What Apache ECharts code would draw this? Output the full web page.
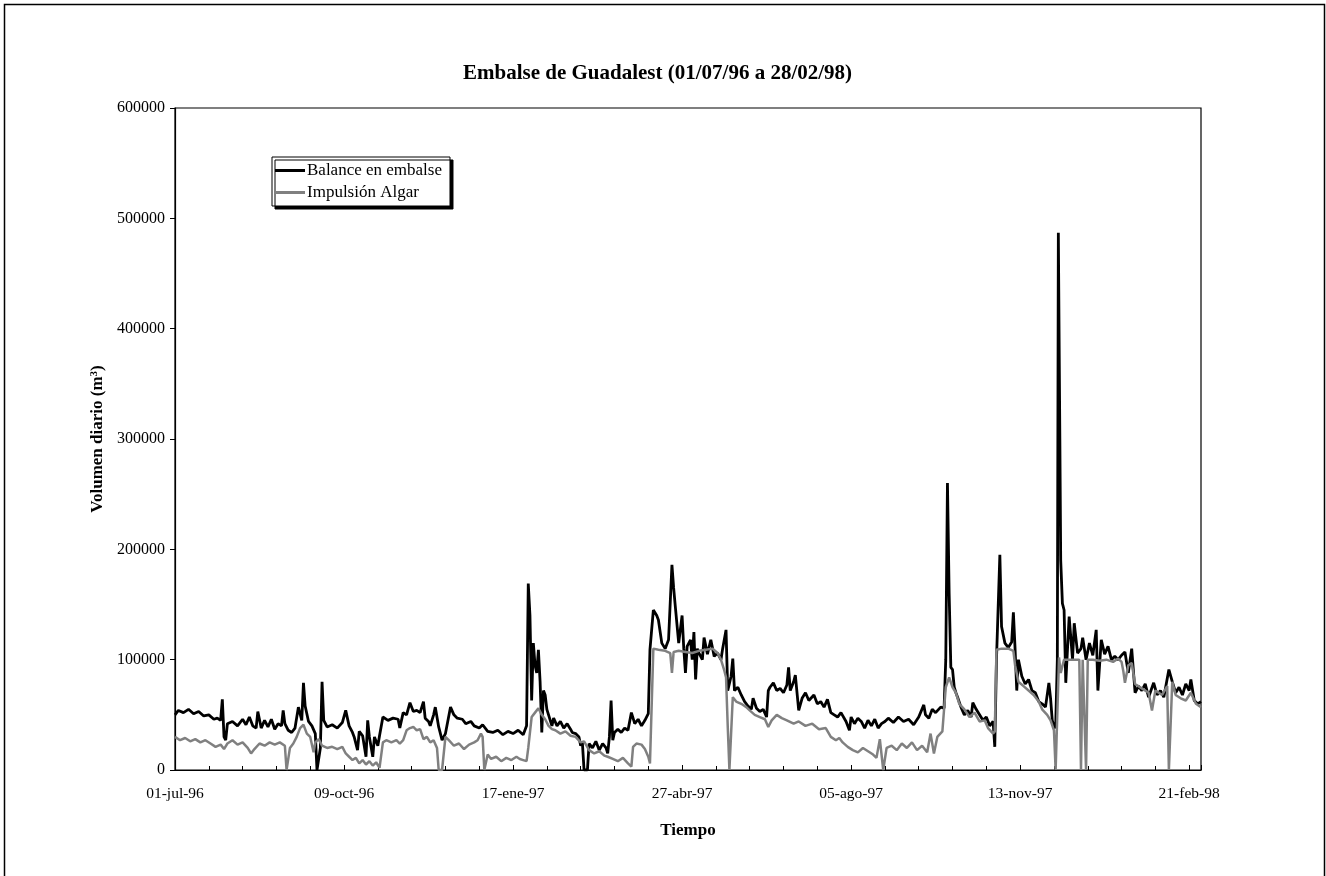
<!DOCTYPE html>
<html><head><meta charset="utf-8">
<script src="https://cdn.jsdelivr.net/npm/echarts@6/dist/echarts.min.js"></script>
<style>html,body{margin:0;padding:0;background:#fff}#c{width:1326px;height:876px}</style>
</head><body><div id="c"></div>
<script>
// Day index counted from 01-jul-96 (day 0) to 28-feb-98 (day 607)
const xTickLabels = ['01-jul-96','09-oct-96','17-ene-97','27-abr-97','05-ago-97','13-nov-97','21-feb-98'];
const yTickLabels = ['0','100000','200000','300000','400000','500000','600000'];
const seriesNames = ['Balance en embalse','Impulsión Algar'];

// Balance en embalse: [day, m3]
const balance = [[0,50000],[2,54000],[5,52000],[8,55000],[11,51000],[14,53000],[17,49000],[20,50000],[23,46000],[25,47000],[27,45000],[28,64000],[29,30000],[30,27000],[31,42000],[34,44000],[37,40000],[40,46000],[42,41000],[44,48000],[46,40000],[48,38000],[49,53000],[51,38000],[53,45000],[55,39000],[57,46000],[59,37000],[61,42000],[63,40000],[64,54000],[65,42000],[67,36000],[69,34000],[71,38000],[73,57000],[75,45000],[76,79000],[77,58000],[79,44000],[81,40000],[83,33000],[84,0],[85,0],[86,20000],[87,80000],[88,45000],[90,39000],[93,41000],[96,38000],[99,43000],[101,54000],[103,40000],[105,34000],[106,30000],[108,18000],[109,35000],[111,31000],[113,12000],[114,45000],[115,30000],[117,12000],[118,30000],[120,22000],[121,31000],[123,48000],[126,45000],[129,47000],[132,46000],[133,38000],[135,52000],[137,50000],[139,61000],[141,53000],[143,54000],[145,52000],[147,62000],[148,47000],[150,44000],[151,40000],[153,50000],[154,57000],[156,39000],[158,27000],[160,33000],[163,57000],[165,50000],[167,47000],[170,46000],[172,42000],[175,44000],[177,40000],[180,38000],[182,41000],[185,35000],[188,34000],[191,36000],[194,32000],[197,35000],[200,33000],[203,36000],[206,32000],[207,36000],[208,40000],[209,169000],[210,140000],[211,63000],[212,115000],[213,95000],[214,88000],[215,109000],[216,80000],[217,34000],[218,72000],[219,68000],[220,55000],[221,50000],[223,40000],[224,47000],[226,40000],[228,44000],[230,38000],[232,42000],[234,37000],[235,34000],[237,33000],[239,30000],[240,22000],[241,25000],[242,0],[244,0],[245,24000],[247,20000],[249,26000],[251,18000],[253,24000],[255,20000],[256,15000],[257,30000],[258,63000],[259,27000],[260,34000],[262,37000],[264,34000],[266,38000],[268,36000],[270,52000],[272,42000],[274,46000],[276,40000],[278,45000],[280,51000],[281,109000],[283,145000],[285,140000],[286,136000],[288,115000],[290,110000],[292,118000],[294,186000],[295,165000],[296,148000],[298,115000],[300,140000],[301,110000],[302,88000],[303,112000],[305,118000],[306,100000],[307,125000],[308,82000],[309,110000],[310,106000],[312,100000],[313,120000],[315,105000],[317,118000],[319,103000],[321,106000],[323,100000],[324,110000],[326,127000],[327,72000],[329,85000],[330,101000],[331,72000],[333,75000],[335,68000],[337,62000],[339,58000],[341,55000],[342,65000],[344,56000],[346,53000],[348,55000],[350,48000],[351,72000],[352,75000],[354,79000],[356,72000],[358,74000],[360,70000],[362,77000],[363,93000],[364,72000],[366,80000],[367,86000],[369,54000],[371,65000],[373,70000],[375,63000],[378,68000],[380,60000],[382,62000],[384,57000],[386,64000],[388,52000],[390,50000],[392,48000],[394,52000],[397,44000],[399,36000],[400,48000],[402,42000],[404,47000],[406,44000],[408,38000],[410,45000],[412,40000],[414,46000],[416,38000],[418,42000],[420,44000],[422,47000],[425,43000],[428,48000],[431,44000],[434,46000],[437,41000],[440,48000],[443,59000],[444,50000],[446,47000],[448,55000],[450,52000],[453,57000],[455,56000],[456,100000],[457,260000],[458,160000],[459,93000],[460,91000],[461,75000],[462,70000],[463,66000],[465,57000],[467,50000],[469,54000],[471,48000],[472,61000],[474,55000],[476,50000],[478,45000],[480,48000],[482,40000],[484,44000],[485,21000],[486,100000],[488,195000],[489,130000],[491,115000],[493,111000],[495,116000],[496,143000],[497,110000],[498,72000],[499,100000],[501,85000],[503,78000],[505,82000],[507,72000],[509,70000],[511,62000],[513,60000],[515,57000],[517,79000],[518,65000],[519,45000],[520,40000],[521,38000],[522,100000],[522.6,487000],[523.5,300000],[524,190000],[525,151000],[526,145000],[527,79000],[529,139000],[531,100000],[532,133000],[534,106000],[536,110000],[537,120000],[539,100000],[541,115000],[543,104000],[545,127000],[546,72000],[548,118000],[550,105000],[552,112000],[554,100000],[556,103000],[558,100000],[560,104000],[562,107000],[564,88000],[566,110000],[568,70000],[570,76000],[572,72000],[574,78000],[576,66000],[579,79000],[581,68000],[583,72000],[585,66000],[588,91000],[590,80000],[592,70000],[594,75000],[596,68000],[598,78000],[600,72000],[601,82000],[603,63000],[605,60000],[607,62000]];

// Impulsión Algar: [day, m3]
const algar = [[0,30000],[3,27000],[6,29000],[9,26000],[12,28000],[15,25000],[18,27000],[21,24000],[24,21000],[27,23000],[29,19000],[31,24000],[34,27000],[37,23000],[40,25000],[43,20000],[45,15000],[47,19000],[50,24000],[53,22000],[56,25000],[59,23000],[62,25000],[65,22000],[66,0],[67,0],[68,20000],[70,24000],[72,30000],[74,38000],[76,41000],[78,33000],[80,30000],[82,16000],[83,25000],[85,28000],[87,22000],[90,20000],[93,21000],[96,19000],[99,21000],[101,15000],[103,12000],[105,9000],[107,11000],[109,6000],[111,9000],[113,5000],[115,8000],[117,4000],[119,7000],[121,2000],[123,25000],[125,27000],[128,25000],[131,27000],[133,24000],[135,27000],[137,36000],[139,38000],[141,39000],[143,36000],[145,37000],[147,28000],[149,30000],[151,25000],[153,27000],[155,20000],[156,0],[158,0],[160,30000],[162,27000],[165,22000],[168,24000],[171,19000],[174,23000],[177,25000],[179,27000],[181,33000],[182,30000],[183,0],[184,0],[185,14000],[187,10000],[190,12000],[193,8000],[196,11000],[199,9000],[202,12000],[204,10000],[206,9000],[208,8000],[209,20000],[211,48000],[213,52000],[215,56000],[217,50000],[219,46000],[221,40000],[223,37000],[225,36000],[228,33000],[231,35000],[234,31000],[237,30000],[240,25000],[242,26000],[245,18000],[248,15000],[251,17000],[254,13000],[256,12000],[259,10000],[262,8000],[265,11000],[268,6000],[270,3000],[271,21000],[273,24000],[276,23000],[278,19000],[280,12000],[281,6000],[283,110000],[286,109000],[290,108000],[293,106000],[294,88000],[295,107000],[298,108000],[302,107000],[306,106000],[310,108000],[314,109000],[318,110000],[321,106000],[323,100000],[325,90000],[326,84000],[327,40000],[328,0],[329,0],[330,66000],[332,62000],[335,60000],[338,57000],[340,54000],[343,50000],[346,48000],[349,46000],[351,39000],[353,45000],[356,50000],[359,47000],[362,45000],[366,42000],[369,44000],[373,40000],[377,42000],[381,37000],[385,38000],[388,30000],[391,27000],[393,29000],[395,25000],[398,21000],[401,18000],[404,16000],[407,20000],[410,17000],[413,14000],[415,11000],[417,28000],[418,14000],[419,0],[420,0],[421,20000],[424,22000],[427,18000],[430,24000],[433,20000],[436,25000],[439,18000],[442,22000],[445,16000],[447,33000],[449,15000],[451,30000],[454,35000],[456,75000],[458,84000],[460,75000],[462,70000],[464,60000],[467,55000],[470,48000],[473,52000],[476,44000],[479,45000],[481,38000],[484,33000],[485,35000],[486,109000],[489,110000],[493,110000],[496,108000],[497,95000],[499,80000],[502,76000],[505,72000],[508,68000],[511,62000],[513,55000],[516,50000],[518,45000],[520,36000],[521,0],[522,0],[523,102000],[524,88000],[526,100000],[530,100000],[535,100000],[536,0],[537,100000],[538,100000],[539,0],[540,100000],[543,100000],[547,99000],[551,100000],[555,98000],[558,101000],[560,98000],[561,90000],[562,79000],[564,95000],[566,97000],[568,78000],[572,74000],[576,70000],[578,54000],[580,72000],[584,68000],[587,76000],[588,0],[589,0],[590,80000],[592,68000],[595,65000],[598,63000],[601,70000],[604,60000],[607,57000]];

const FONT = 'Liberation Serif';
const chart = echarts.init(document.getElementById('c'), null, {renderer:'canvas'});
chart.setOption({
  animation:false,
  backgroundColor:'#fff',
  title:{text:'Embalse de Guadalest (01/07/96 a 28/02/98)', left:458, top:58,
    textStyle:{fontFamily:FONT, fontWeight:'bold', fontSize:21, color:'#000'}},
  grid:{left:175, right:125, top:108, bottom:106, show:true, borderColor:'#000', borderWidth:1.2, backgroundColor:'transparent'},
  legend:{data:seriesNames, orient:'vertical', left:272, top:157, padding:[5,8,5,3], itemGap:5,
    itemWidth:30, itemHeight:3, icon:'rect',
    backgroundColor:'#fff', borderColor:'#000', borderWidth:1,
    shadowColor:'#000', shadowBlur:0.01, shadowOffsetX:3, shadowOffsetY:3,
    textStyle:{fontFamily:FONT, fontSize:17, color:'#000', padding:[0,0,0,-3]}},
  xAxis:{type:'value', min:0, max:607, interval:100,
    name:'Tiempo', nameLocation:'middle', nameGap:52,
    nameTextStyle:{fontFamily:FONT, fontWeight:'bold', fontSize:17, color:'#000'},
    axisLine:{lineStyle:{color:'#000', width:1.2}},
    axisTick:{inside:true, length:5, lineStyle:{color:'#000'}},
    minorTick:{show:true, splitNumber:5, length:4, lineStyle:{color:'#000'}},
    splitLine:{show:false},
    axisLabel:{margin:16, fontFamily:FONT, fontSize:15.5, color:'#000', showMaxLabel:false,
      formatter:v=> (v%100===0 && xTickLabels[v/100]!==undefined) ? xTickLabels[v/100] : ''}},
  yAxis:{type:'value', min:0, max:600000, interval:100000,
    name:'Volumen diario (m{sup|3})', nameLocation:'middle', nameGap:63,
    nameTextStyle:{fontFamily:FONT, fontWeight:'bold', fontSize:17, color:'#000',
      rich:{sup:{fontFamily:FONT, fontWeight:'bold', fontSize:11, color:'#000', verticalAlign:'top', padding:[0,0,7,0]}}},
    axisLine:{show:true, lineStyle:{color:'#000', width:1.2}},
    axisTick:{show:true, inside:false, length:5, lineStyle:{color:'#000'}},
    splitLine:{show:false},
    axisLabel:{margin:10, fontFamily:FONT, fontSize:16, color:'#000',
      formatter:v=> yTickLabels[Math.round(v/100000)] ?? ''}},
  series:[
    {name:seriesNames[0], type:'line', data:balance, showSymbol:false, symbol:'none', z:3,
      lineStyle:{color:'#000', width:2.8}, itemStyle:{color:'#000'}},
    {name:seriesNames[1], type:'line', data:algar, showSymbol:false, symbol:'none', z:4,
      lineStyle:{color:'#808080', width:2.5}, itemStyle:{color:'#808080'}}
  ],
  graphic:[{type:'rect', shape:{x:4.5, y:4.5, width:1320, height:900}, style:{fill:'none', stroke:'#000', lineWidth:1.5}, silent:true}]
});
</script></body></html>
